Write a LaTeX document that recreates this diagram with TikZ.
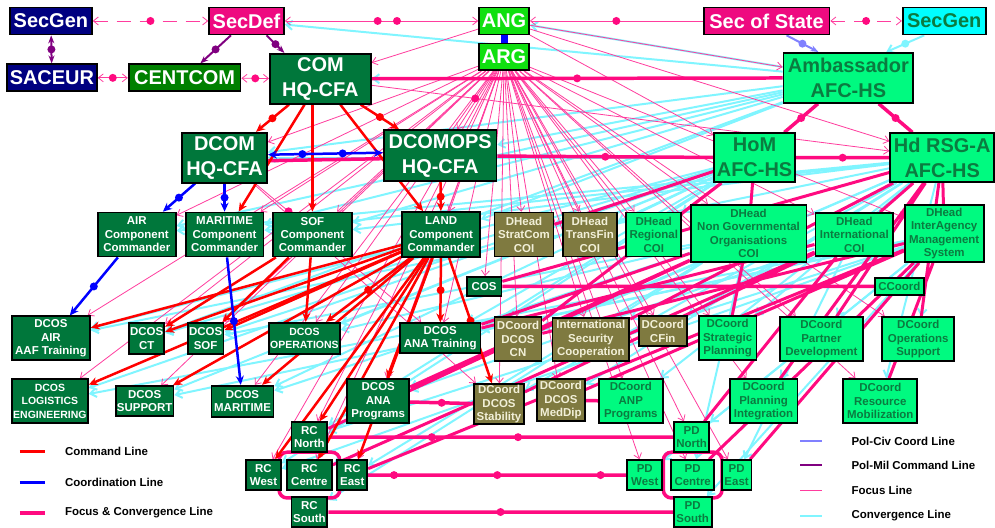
\documentclass[tikz,border=0pt]{standalone}
\usepackage{fontspec}
\setmainfont{Liberation Sans}
\usetikzlibrary{arrows.meta}

\definecolor{navyc}{HTML}{000080}
\definecolor{pinkc}{HTML}{EE0A80}
\definecolor{angc}{HTML}{10E010}
\definecolor{cyanc}{HTML}{00FFFF}
\definecolor{cgreenc}{HTML}{008000}
\definecolor{hqc}{HTML}{00773B}
\definecolor{springc}{HTML}{00FA80}
\definecolor{dkgreenc}{HTML}{0B7B40}
\definecolor{olivec}{HTML}{7F7A40}
\definecolor{creamc}{HTML}{F2F0D8}
\definecolor{fcpink}{HTML}{FF0A80}
\definecolor{focpink}{HTML}{FF3D9E}
\definecolor{convc}{HTML}{80F5FF}
\definecolor{polcivc}{HTML}{8080FF}
\definecolor{polmilc}{HTML}{800080}

\pgfdeclarelayer{back}
\pgfdeclarelayer{lines}
\pgfsetlayers{back,lines,main}

\begin{document}
\begin{tikzpicture}[x=1pt, y=-1pt,
box/.style={rectangle, draw=black, line width=1.8pt, inner sep=1pt, align=center},
topbox/.style={box, font=\fontsize{20}{25}\selectfont\bfseries},
smallbox/.style={box, font=\fontsize{11.5}{13.5}\selectfont\bfseries},
navybox/.style={topbox, fill=navyc, text=white},
pinkbox/.style={topbox, fill=pinkc, text=white},
angbox/.style={topbox, fill=angc, text=white},
cyanbox/.style={topbox, fill=cyanc, text=dkgreenc},
cgbox/.style={topbox, fill=cgreenc, text=white},
hqbox/.style={topbox, fill=hqc, text=white},
agbox/.style={topbox, fill=springc, text=dkgreenc},
cmdbox/.style={smallbox, fill=hqc, text=white},
olivebox/.style={smallbox, fill=olivec, text=creamc},
sgbox/.style={smallbox, fill=springc, text=dkgreenc},
legend/.style={anchor=west, inner sep=0pt, font=\fontsize{11.5}{14}\selectfont\bfseries},
cmdline/.style={draw=red, line width=2.5pt, -{Stealth[length=9pt,width=8pt]}},
coordline/.style={draw=blue, line width=2.5pt, -{Stealth[length=9pt,width=8pt]}},
fcline/.style={draw=fcpink, line width=3.5pt},
focline/.style={draw=focpink, line width=0.8pt, >={Straight Barb[length=5pt,width=8pt]}, ->},
convline/.style={draw=convc, line width=2pt, >={Straight Barb[length=6pt,width=9pt]}, ->},
pmline/.style={draw=polmilc, line width=2pt, -{Stealth[length=8pt]}},
pcline/.style={draw=polcivc, line width=2pt, -{Stealth[length=8pt]}},
cmddot/.style={circle, fill=red, inner sep=0pt, minimum size=8pt},
coorddot/.style={circle, fill=blue, inner sep=0pt, minimum size=8pt},
fcdot/.style={circle, fill=fcpink, inner sep=0pt, minimum size=8pt},
pmdot/.style={circle, fill=polmilc, inner sep=0pt, minimum size=8pt},
pcdot/.style={circle, fill=polcivc, inner sep=0pt, minimum size=8pt},
convdot/.style={circle, fill=convc, inner sep=0pt, minimum size=8pt}
]
  \begin{pgfonlayer}{back}
    \path[fill=white, use as bounding box] (0,0) rectangle (995,524);
  \end{pgfonlayer}

  % political level
  \node[navybox, minimum width=82pt, minimum height=27pt] (secgenL) at (51,21) {SecGen};
  \node[pinkbox, minimum width=75pt, minimum height=27pt] (secdef) at (247,21) {SecDef};
  \node[angbox, minimum width=50pt, minimum height=27pt] (ang) at (505,21) {ANG};
  \node[angbox, minimum width=50pt, minimum height=27pt] (arg) at (505,57) {ARG};
  \node[pinkbox, minimum width=126pt, minimum height=27pt] (secstate) at (768,21) {Sec of State};
  \node[cyanbox, minimum width=83pt, minimum height=27pt] (secgenR) at (946,21) {SecGen};
  \node[navybox, minimum width=90pt, minimum height=27pt] (saceur) at (52,78) {SACEUR};
  \node[cgbox, minimum width=112pt, minimum height=27pt] (centcom) at (185,78) {CENTCOM};

  % headquarters
  \node[hqbox, minimum width=101pt, minimum height=50pt] (com) at (321,79) {COM\\HQ-CFA};
  \node[agbox, minimum width=130pt, minimum height=50pt] (amb) at (850,78) {Ambassador\\AFC-HS};
  \node[hqbox, minimum width=85pt, minimum height=50pt] (dcom) at (225,158) {DCOM\\HQ-CFA};
  \node[hqbox, minimum width=113pt, minimum height=51pt] (dcomops) at (441,156) {DCOMOPS\\HQ-CFA};
  \node[agbox, minimum width=81pt, minimum height=49pt] (hom) at (756,158) {HoM\\AFC-HS};
  \node[agbox, minimum width=104pt, minimum height=49pt] (hdrsg) at (944,158) {Hd RSG-A\\AFC-HS};

  % components and heads
  \node[cmdbox, minimum width=78pt, minimum height=44pt] (air) at (137,235) {AIR\\Component\\Commander};
  \node[cmdbox, minimum width=78pt, minimum height=44pt] (maritime) at (225,235) {MARITIME\\Component\\Commander};
  \node[cmdbox, minimum width=79pt, minimum height=44pt] (sof) at (313,235) {SOF\\Component\\Commander};
  \node[cmdbox, minimum width=78pt, minimum height=45pt] (land) at (442,235) {LAND\\Component\\Commander};
  \node[olivebox, minimum width=59pt, minimum height=44pt] (stratcom) at (525,235) {DHead\\StratCom\\COI};
  \node[olivebox, minimum width=54pt, minimum height=44pt] (transfin) at (591,235) {DHead\\TransFin\\COI};
  \node[sgbox, minimum width=55pt, minimum height=44pt] (regional) at (655,235) {DHead\\Regional\\COI};
  \node[sgbox, minimum width=116pt, minimum height=57pt] (ngo) at (750,234) {DHead\\Non Governmental\\Organisations\\COI};
  \node[sgbox, minimum width=78pt, minimum height=43pt] (intl) at (856,235) {DHead\\International\\COI};
  \node[sgbox, minimum width=79pt, minimum height=57pt] (iams) at (946,234) {DHead\\InterAgency\\Management\\System};
  \node[cmdbox, minimum width=35pt, minimum height=19pt] (cos) at (485,287) {COS};
  \node[sgbox, minimum width=49pt, minimum height=17pt] (ccoord) at (901,287) {CCoord};

  % DCOS and DCoord
  \node[cmdbox, minimum width=78pt, minimum height=44pt] (dcosair) at (51,339) {DCOS\\AIR\\AAF Training};
  \node[cmdbox, minimum width=35pt, minimum height=31pt] (dcosct) at (147,339) {DCOS\\CT};
  \node[cmdbox, minimum width=36pt, minimum height=31pt] (dcossof) at (206,339) {DCOS\\SOF};
  \node[cmdbox, minimum width=71pt, minimum height=31pt, font=\fontsize{10.5}{13.5}\selectfont\bfseries] (dcosops) at (305,339) {DCOS\\OPERATIONS};
  \node[cmdbox, minimum width=81pt, minimum height=30pt] (dcosanat) at (441,339) {DCOS\\ANA Training};
  \node[olivebox, minimum width=47pt, minimum height=44pt] (dcoordcn) at (519,340) {DCoord\\DCOS\\CN};
  \node[olivebox, minimum width=77pt, minimum height=43pt] (isc) at (592,340) {International\\Security\\Cooperation};
  \node[olivebox, minimum width=48pt, minimum height=30pt] (cfin) at (664,332) {DCoord\\CFin};
  \node[sgbox, minimum width=58pt, minimum height=44pt] (stratplan) at (729,339) {DCoord\\Strategic\\Planning};
  \node[sgbox, minimum width=83pt, minimum height=44pt] (partner) at (823,340) {DCoord\\Partner\\Development};
  \node[sgbox, minimum width=72pt, minimum height=44pt] (opssup) at (920,340) {DCoord\\Operations\\Support};
  \node[cmdbox, minimum width=76pt, minimum height=44pt, font=\fontsize{10.5}{13.5}\selectfont\bfseries] (dcoslog) at (50,402) {DCOS\\LOGISTICS\\ENGINEERING};
  \node[cmdbox, minimum width=57pt, minimum height=30pt] (dcossup) at (145,402) {DCOS\\SUPPORT};
  \node[cmdbox, minimum width=62pt, minimum height=31pt] (dcosmar) at (243,402) {DCOS\\MARITIME};
  \node[cmdbox, minimum width=62pt, minimum height=44pt] (dcosanap) at (379,402) {DCOS\\ANA\\Programs};
  \node[olivebox, minimum width=50pt, minimum height=40pt] (stab) at (500,405) {DCoord\\DCOS\\Stability};
  \node[olivebox, minimum width=48pt, minimum height=42pt] (meddip) at (562,401) {DCoord\\DCOS\\MedDip};
  \node[sgbox, minimum width=64pt, minimum height=44pt] (anp) at (632,402) {DCoord\\ANP\\Programs};
  \node[sgbox, minimum width=68pt, minimum height=44pt] (planint) at (765,402) {DCoord\\Planning\\Integration};
  \node[sgbox, minimum width=74pt, minimum height=44pt] (resmob) at (882,402) {DCoord\\Resource\\Mobilization};

  % regional commands and provincial directors
  \node[cmdbox, minimum width=36pt, minimum height=30pt] (rcnorth) at (310,438) {RC\\North};
  \node[cmdbox, minimum width=35pt, minimum height=30pt] (rcwest) at (264,476) {RC\\West};
  \node[cmdbox, minimum width=45pt, minimum height=30pt] (rccentre) at (310,476) {RC\\Centre};
  \node[cmdbox, minimum width=30pt, minimum height=30pt] (rceast) at (353,476) {RC\\East};
  \node[cmdbox, minimum width=36pt, minimum height=30pt] (rcsouth) at (310,513) {RC\\South};
  \node[sgbox, minimum width=35pt, minimum height=30pt] (pdnorth) at (693,438) {PD\\North};
  \node[sgbox, minimum width=35pt, minimum height=30pt] (pdwest) at (646,476) {PD\\West};
  \node[sgbox, minimum width=43pt, minimum height=30pt] (pdcentre) at (694,476) {PD\\Centre};
  \node[sgbox, minimum width=30pt, minimum height=30pt] (pdeast) at (738,476) {PD\\East};
  \node[sgbox, minimum width=38pt, minimum height=30pt] (pdsouth) at (694,513) {PD\\South};

  % legend
  \node[legend] (lcmd) at (65,452) {Command Line};
  \node[legend] (lcrd) at (65,483) {Coordination Line};
  \node[legend] (lfc) at (65,514) {Focus \& Convergence Line};
  \node[legend] (lpc) at (853,442) {Pol-Civ Coord Line};
  \node[legend] (lpm) at (853,466) {Pol-Mil Command Line};
  \node[legend] (lfoc) at (853,491) {Focus Line};
  \node[legend] (lconv) at (853,517) {Convergence Line};
  \draw[red, line width=3pt] ([xshift=-45pt]lcmd.west) -- ([xshift=-20pt]lcmd.west);
  \draw[blue, line width=3pt] ([xshift=-45pt]lcrd.west) -- ([xshift=-20pt]lcrd.west);
  \draw[fcpink, line width=4pt] ([xshift=-45pt]lfc.west) -- ([xshift=-20pt]lfc.west);
  \draw[polcivc, line width=2pt] ([xshift=-51pt]lpc.west) -- ([xshift=-29pt]lpc.west);
  \draw[polmilc, line width=2.5pt] ([xshift=-51pt]lpm.west) -- ([xshift=-29pt]lpm.west);
  \draw[focpink, line width=1pt] ([xshift=-51pt]lfoc.west) -- ([xshift=-29pt]lfoc.west);
  \draw[convc, line width=2pt] ([xshift=-51pt]lconv.west) -- ([xshift=-29pt]lconv.west);

  \begin{pgfonlayer}{lines}
  % convergence lines
  \draw[convline] (amb) edge (com) edge (secdef) edge (ang) edge (dcom) edge (dcomops)
        edge (land) edge (sof) edge (maritime) edge (air) edge (dcosct);
  \draw[convline] (hom) edge (dcosair) edge (dcosct) edge (dcossof) edge (dcosops)
        edge (dcosanat) edge (dcoslog) edge (dcossup) edge (dcosmar)
        edge (stratcom) edge (transfin) edge (regional) edge (rcwest) edge (rcnorth);
  \draw[convline] (hdrsg) edge (dcoordcn) edge (isc) edge (cfin) edge (stratplan)
        edge (partner) edge (opssup) edge (planint) edge (resmob) edge (anp)
        edge (meddip) edge (stab) edge (dcosanap) edge (dcom) edge (air)
        edge (maritime) edge (sof) edge (dcosair);
  \draw[convline] (iams) edge (rcnorth) edge (rcwest) edge (pdnorth) edge (pdwest)
        edge (pdsouth) edge (dcosanat) edge (dcossup) edge (dcoslog);
  \draw[convline] (ngo) edge (rcsouth) edge (rceast) edge (pdcentre) edge (dcossof)
        edge (dcosmar) edge (dcosops);
  \draw[convline] (intl) edge (dcosanap) edge (rccentre) edge (pdeast);
  \draw[convline] ([xshift=-20pt]secgenR.south) -- node[convdot]{} ([xshift=38pt]amb.north);

  % focus lines
  \draw[focline] (arg) edge (dcom) edge (dcomops) edge (air) edge (maritime) edge (sof)
        edge (land) edge (stratcom) edge (transfin) edge (regional) edge (ngo)
        edge (intl) edge (iams) edge (cos) edge (dcosair) edge (dcosct) edge (dcossof)
        edge (dcosops) edge (dcosanat) edge (dcoslog) edge (dcossup) edge (dcosmar)
        edge (dcosanap) edge (stab) edge (meddip) edge (anp) edge (dcoordcn)
        edge (isc) edge (cfin) edge (stratplan) edge (partner) edge (opssup)
        edge (planint) edge (resmob) edge (rcnorth) edge (rcwest) edge (rccentre)
        edge (rceast) edge (pdnorth) edge (pdwest) edge (pdcentre) edge (pdeast);
  \draw[focline] (ang) edge (com) edge (amb) edge (hom) edge (hdrsg);
  \draw[focline] (com) -- node[fcdot, pos=.2]{} (hdrsg);
  \draw[focline] (dcom) -- node[fcdot, pos=.2]{} (dcosanat);
  \draw[focline] (dcom) -- node[fcdot, pos=.2]{} (stab);
  \draw[focline, <->, dash pattern=on 14pt off 9pt] (secgenL) -- node[fcdot]{} (secdef);
  \draw[focline, <->, dash pattern=on 14pt off 9pt] (secstate) -- node[fcdot]{} (secgenR);
  \draw[focline, <->] (saceur) -- node[fcdot]{} (centcom);
  \draw[focline, <->] (centcom) -- node[fcdot]{} (com);
  \draw[focline, <->] (secdef) -- node[fcdot, pos=.48]{} node[fcdot, pos=.58]{} (ang);
  \draw[focline] (secstate) -- node[fcdot]{} (ang);

  % focus and convergence lines
  \draw[fcline] (com) -- node[fcdot]{} (amb);
  \draw[fcline] ([yshift=-3pt]dcom.east) -- ([yshift=-3pt]dcomops.west);
  \draw[fcline] (dcomops) -- node[fcdot]{} (hom)
        (hom) -- node[fcdot]{} (hdrsg)
        (amb) -- node[fcdot]{} (hom)
        (amb) -- node[fcdot]{} (hdrsg)
        (cos) -- (ccoord)
        (dcosanap) -- node[fcdot]{} (stab)
        (meddip) -- (anp)
        (rcnorth) -- node[fcdot, pos=.3]{} node[fcdot, pos=.55]{} (pdnorth)
        (rceast) -- node[fcdot, pos=.1]{} node[fcdot]{} node[fcdot, pos=.9]{} (pdwest)
        (rcsouth) -- node[fcdot]{} (pdsouth);
  \draw[fcline, rounded corners=8pt] ([shift={(-7,-7)}]rccentre.north west) rectangle ([shift={(7,7)}]rccentre.south east);
  \draw[fcline, rounded corners=8pt] ([shift={(-7,-7)}]pdcentre.north west) rectangle ([shift={(7,7)}]pdcentre.south east);
  \draw[fcline, line width=3pt] (hdrsg) -- (iams) (hdrsg) -- (intl) (hdrsg) -- (partner)
        (hdrsg) -- (opssup) (hdrsg) -- (planint) (iams) -- (resmob) (iams) -- (pdeast)
        (iams) -- (pdcentre) (intl) -- (pdnorth) (ngo) -- (stratplan) (hom) -- (ngo)
        (hom) -- (regional) (hom) -- (stratcom) (intl) -- (rccentre) (iams) -- (rceast)
        (ngo) -- (dcosanat) (hdrsg) -- (cos) (ngo) -- (dcosanap) (intl) -- (stab)
        (iams) -- (dcoordcn) (ngo) -- (rcnorth) (hdrsg) -- (isc) (iams) -- (meddip)
        (intl) -- (dcosanat) (hom) -- (dcoordcn);

  % political-military and political-civil lines
  \draw[pmline, {Stealth[length=8pt]}-{Stealth[length=8pt]}] (secgenL) -- node[pmdot]{} (saceur);
  \draw[pmline] (secdef) -- node[pmdot]{} (centcom);
  \draw[pmline] ([xshift=20pt]secdef.south) -- node[pmdot]{} ([xshift=-36pt]com.north);
  \draw[pcline] ([xshift=20pt]secstate.south) -- node[pcdot]{} ([xshift=-30pt]amb.north);
  \draw[blue, line width=7pt] (ang) -- (arg);

  % command lines
  \draw[cmdline] (com) -- node[cmddot]{} (dcom);
  \draw[cmdline] (com) -- node[cmddot]{} (dcomops);
  \draw[cmdline] (com) edge (maritime) edge (land);
  \draw[cmdline] (com.south -| sof) -- (sof);
  \draw[cmdline] (dcomops) -- node[cmddot]{} (land);
  \draw[cmdline] (land) edge (dcosair) edge (dcosct) edge (dcossof) edge node[cmddot]{} (dcosops)
        edge node[cmddot]{} (dcosanat) edge (dcoslog) edge (dcossup) edge (dcosmar)
        edge (dcosanap) edge node[cmddot]{} (stab) edge (rcnorth) edge (rcwest) edge (rccentre) edge (rceast);
  \draw[cmdline] (sof) edge (dcosct) edge (dcossof) edge (dcosops);

  % coordination lines
  \draw[coordline, {Stealth[length=9pt,width=8pt]}-{Stealth[length=9pt,width=8pt]}] ([yshift=3pt]dcom.east) -- node[coorddot, pos=.3]{} node[coorddot, pos=.65]{} ([yshift=3pt]dcomops.west);
  \draw[coordline] (dcom) -- node[coorddot]{} (air);
  \draw[coordline] (dcom) -- node[coorddot]{} (maritime);
  \draw[coordline] (air) -- node[coorddot]{} (dcosair);
  \draw[coordline] (maritime) -- node[coorddot]{} (dcosmar);
  \end{pgfonlayer}
\end{tikzpicture}
\end{document}
